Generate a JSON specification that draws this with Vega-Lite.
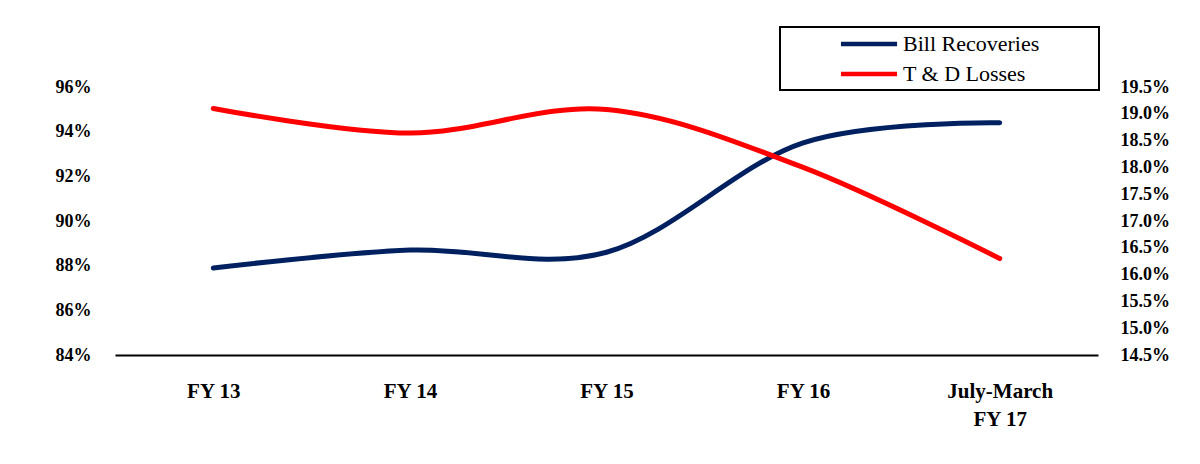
{
  "$schema": "https://vega.github.io/schema/vega-lite/v6.json",
  "width": 983,
  "height": 268,
  "autosize": {"type": "none"},
  "padding": {"left": 115, "top": 87, "right": 102, "bottom": 109},
  "background": "white",
  "data": {
    "values": [
      {"period": "FY 13", "series": "Bill Recoveries", "value": 87.9},
      {"period": "FY 14", "series": "Bill Recoveries", "value": 88.7},
      {"period": "FY 15", "series": "Bill Recoveries", "value": 88.6},
      {"period": "FY 16", "series": "Bill Recoveries", "value": 93.5},
      {"period": "July-March FY 17", "series": "Bill Recoveries", "value": 94.4},
      {"period": "FY 13", "series": "T & D Losses", "value": 19.1},
      {"period": "FY 14", "series": "T & D Losses", "value": 18.64},
      {"period": "FY 15", "series": "T & D Losses", "value": 19.08},
      {"period": "FY 16", "series": "T & D Losses", "value": 18.0},
      {"period": "July-March FY 17", "series": "T & D Losses", "value": 16.3}
    ]
  },
  "encoding": {
    "x": {
      "field": "period",
      "type": "ordinal",
      "sort": ["FY 13", "FY 14", "FY 15", "FY 16", "July-March FY 17"],
      "scale": {"type": "point", "padding": 0.5},
      "axis": {
        "title": null,
        "orient": "bottom",
        "domain": true,
        "domainColor": "#000000",
        "domainWidth": 2,
        "ticks": false,
        "grid": false,
        "labelPadding": 25,
        "labelFont": "Liberation Serif",
        "labelFontSize": 21,
        "labelFontWeight": "bold",
        "labelColor": "#000000",
        "labelLineHeight": 28,
        "labelAngle": 0,
        "labelExpr": "datum.label == 'July-March FY 17' ? ['July-March', 'FY 17'] : datum.label"
      }
    },
    "color": {
      "field": "series",
      "type": "nominal",
      "scale": {"domain": ["Bill Recoveries", "T & D Losses"], "range": ["#002060", "#ff0000"]},
      "legend": {
        "title": "MM",
        "titleOrient": "right",
        "titleFontSize": 29,
        "titleColor": "#ffffff",
        "titlePadding": 0,
        "orient": "none",
        "legendX": 665,
        "legendY": -60,
        "padding": 5,
        "strokeColor": "#000000",
        "fillColor": "#ffffff",
        "symbolType": "M-3,0H3",
        "symbolSize": 350,
        "symbolStrokeWidth": 4.5,
        "symbolOffset": 72,
        "labelOffset": 22,
        "labelFont": "Liberation Serif",
        "labelFontSize": 22,
        "labelColor": "#000000",
        "rowPadding": 7
      }
    }
  },
  "layer": [
    {
      "transform": [{"filter": "datum.series == 'Bill Recoveries'"}],
      "mark": {"type": "line", "interpolate": "cardinal", "strokeWidth": 5, "strokeCap": "round"},
      "encoding": {
        "y": {
          "field": "value",
          "type": "quantitative",
          "scale": {"domain": [84, 96], "nice": false, "zero": false},
          "axis": {
            "title": null,
            "orient": "left",
            "values": [84, 86, 88, 90, 92, 94, 96],
            "domain": false,
            "ticks": false,
            "grid": false,
            "labelPadding": 24,
            "labelFont": "Liberation Serif",
            "labelFontSize": 18,
            "labelFontWeight": "bold",
            "labelColor": "#000000",
            "labelExpr": "datum.value + '%'"
          }
        }
      }
    },
    {
      "transform": [{"filter": "datum.series == 'T & D Losses'"}],
      "mark": {"type": "line", "interpolate": "cardinal", "strokeWidth": 5, "strokeCap": "round"},
      "encoding": {
        "y": {
          "field": "value",
          "type": "quantitative",
          "scale": {"domain": [14.5, 19.5], "nice": false, "zero": false},
          "axis": {
            "title": null,
            "orient": "right",
            "values": [14.5, 15, 15.5, 16, 16.5, 17, 17.5, 18, 18.5, 19, 19.5],
            "format": ".1f",
            "domain": false,
            "ticks": false,
            "grid": false,
            "labelPadding": 22,
            "labelFont": "Liberation Serif",
            "labelFontSize": 18,
            "labelFontWeight": "bold",
            "labelColor": "#000000",
            "labelExpr": "datum.label + '%'"
          }
        }
      }
    }
  ],
  "resolve": {"scale": {"y": "independent"}},
  "config": {
    "view": {"stroke": null},
    "legend": {"strokeWidth": 2},
    "font": "Liberation Serif"
  }
}
